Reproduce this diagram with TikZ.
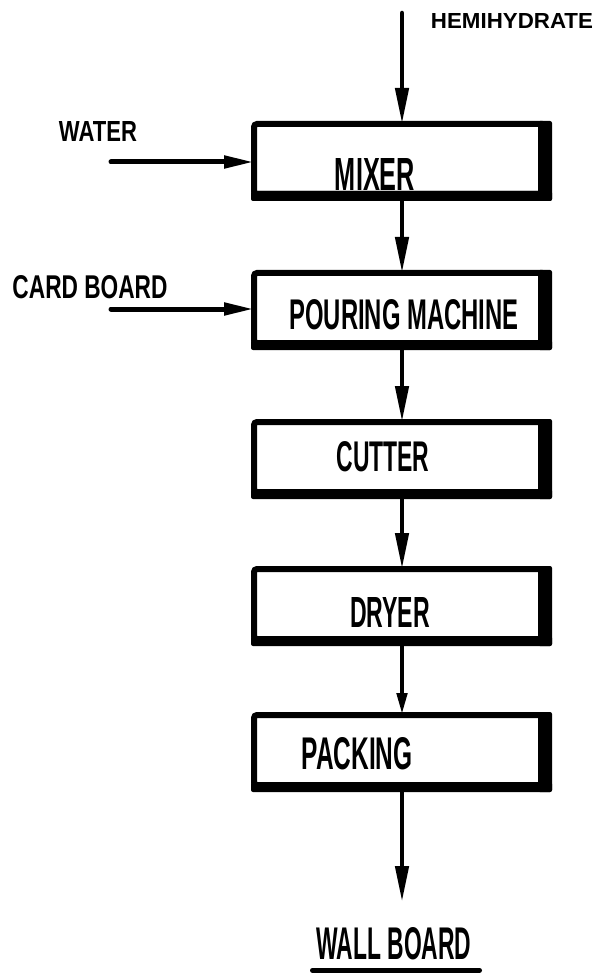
\documentclass[tikz,border=0pt]{standalone}
\usepackage{fontspec}
\setmainfont{Liberation Sans}
\usepackage{graphicx}
\usetikzlibrary{arrows.meta}
\newcommand{\lbl}[3]{\resizebox{#1pt}{#2pt}{\bfseries #3}}
\begin{document}
\begin{tikzpicture}[x=1pt,y=-1pt,
  box/.style={draw, line width=6pt, rounded corners=3pt, outer sep=0pt, inner sep=0pt,
              minimum width=291pt, minimum height=70pt},
  lab/.style={inner sep=0pt, outer sep=0pt},
  flow/.style={line width=4.5pt, line cap=round, -{Triangle[length=36pt,width=13pt]}},
  feed/.style={line width=5pt, line cap=round, -{Triangle[length=30pt,width=12pt]}}
]
\useasboundingbox[fill=white] (0,0) rectangle (599,973);

% process boxes
\node[box] (mix)  at (399.5,159) {};
\node[box] (pour) at (399.5,308) {};
\node[box] (cut)  at (399.5,457) {};
\node[box] (dry)  at (399.5,604) {};
\node[box] (pack) at (399.5,750) {};

\foreach \n in {mix,pour,cut,dry,pack}{
  \fill[rounded corners=2pt] ([xshift=-3pt,yshift=3pt]\n.south west) rectangle ([xshift=7pt,yshift=-7pt]\n.south east);
  \fill[rounded corners=2pt] ([xshift=-7pt,yshift=3pt]\n.north east) rectangle ([xshift=7pt,yshift=-7pt]\n.south east);
}

% labels inside boxes
\node[lab] (mixl)  at (375,174) {\lbl{80}{32}{MIXER}};
\node[lab] (pourl) at (404,315) {\lbl{229}{30}{POURING MACHINE}};
\node[lab] (cutl)  at (383,457) {\lbl{93}{30}{CUTTER}};
\node[lab] (dryl)  at (390,612) {\lbl{80}{30}{DRYER}};
\node[lab] (packl) at (357,754) {\lbl{111}{32}{PACKING}};

% external labels
\node[lab] (hemi)  at (512,21)  {\lbl{162}{15}{HEMIHYDRATE}};
\node[lab] (water) at (98,132)  {\lbl{78}{20}{WATER}};
\node[lab] (card)  at (90,287)  {\lbl{155}{23}{CARD BOARD}};
\node[lab] (wall)  at (394,944) {\lbl{155}{32}{WALL BOARD}};
\draw[line width=5pt, line cap=round] ([xshift=-4pt,yshift=-10pt]wall.south west) -- ([xshift=8pt,yshift=-10pt]wall.south east);

% free ends
\coordinate (top) at (402,13);
\coordinate (waterin) at (111,162);
\coordinate (cardin) at (111,309);
\coordinate (out) at (402,902);

% connectors
\draw[flow] (top) -- (mix.north -| top);
\draw[flow] (mix.south -| top) -- (pour.north -| top);
\draw[flow] (pour.south -| top) -- (cut.north -| top);
\draw[flow] (cut.south -| top) -- (dry.north -| top);
\draw[line width=4.5pt, line cap=round, -{Triangle[length=22pt,width=10pt]}] (dry.south -| top) -- (pack.north -| top);
\draw[flow] (pack.south -| top) -- (out);
\draw[feed] (waterin) -- (waterin -| mix.west);
\draw[feed] (cardin) -- (cardin -| pour.west);
\end{tikzpicture}
\end{document}
